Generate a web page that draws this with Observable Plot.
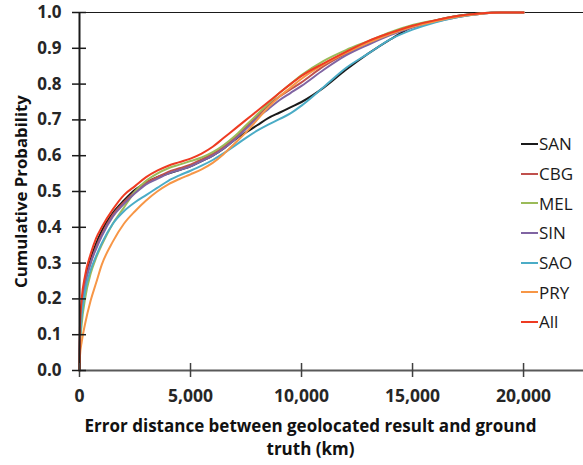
<!DOCTYPE html>
<html>
<head>
<meta charset="utf-8">
<script src="https://cdn.jsdelivr.net/npm/d3@7"></script>
<script src="https://cdn.jsdelivr.net/npm/@observablehq/plot@0.6"></script>
<style>
  html, body { margin: 0; padding: 0; background: #fff; }
  #wrap { position: relative; width: 583px; height: 465px; }
  #legend { position: absolute; left: 521px; top: 129px; font-family: "Open Sans", sans-serif; font-size: 17px; color: #1a1a1a; }
  #legend .row { display: flex; align-items: center; height: 29.7px; }
  #legend .sw { width: 17px; height: 2px; margin-right: 1px; }
</style>
</head>
<body>
<div id="wrap"><div id="legend"></div></div>
<script>
const seriesNames = ["SAN", "CBG", "MEL", "SIN", "SAO", "PRY", "All"];
const seriesColors = ["#1a1a1a", "#C0504D", "#9BBB59", "#8064A2", "#4BACC6", "#F79646", "#EE3B22"];
const distanceKm = [0, 20, 100, 250, 500, 750, 1000, 1500, 2000, 2500, 3000, 3500, 4000, 4500, 5000, 5500, 6000, 6500, 7000, 7500, 8000, 8500, 9000, 9500, 10000, 11000, 12000, 13000, 14000, 15000, 16000, 17000, 18000, 19000, 20000];
const SAN = [0, 0.10, 0.18, 0.25, 0.31, 0.355, 0.39, 0.44, 0.475, 0.505, 0.525, 0.54, 0.55, 0.56, 0.57, 0.585, 0.60, 0.62, 0.645, 0.665, 0.685, 0.705, 0.72, 0.735, 0.75, 0.79, 0.84, 0.885, 0.925, 0.96, 0.977, 0.99, 0.998, 1.0, 1.0];
const CBG = [0, 0.09, 0.17, 0.24, 0.30, 0.345, 0.38, 0.435, 0.47, 0.50, 0.525, 0.54, 0.555, 0.565, 0.575, 0.59, 0.605, 0.625, 0.65, 0.68, 0.71, 0.74, 0.765, 0.785, 0.805, 0.85, 0.885, 0.915, 0.94, 0.96, 0.975, 0.988, 0.996, 1.0, 1.0];
const MEL = [0, 0.06, 0.13, 0.20, 0.27, 0.315, 0.35, 0.41, 0.455, 0.50, 0.53, 0.55, 0.565, 0.575, 0.585, 0.595, 0.61, 0.63, 0.655, 0.685, 0.715, 0.745, 0.775, 0.80, 0.825, 0.865, 0.895, 0.92, 0.945, 0.965, 0.978, 0.99, 0.997, 1.0, 1.0];
const SIN = [0, 0.09, 0.17, 0.24, 0.30, 0.34, 0.375, 0.43, 0.465, 0.495, 0.52, 0.535, 0.55, 0.56, 0.57, 0.585, 0.60, 0.62, 0.645, 0.675, 0.705, 0.73, 0.755, 0.775, 0.795, 0.84, 0.88, 0.91, 0.937, 0.958, 0.974, 0.987, 0.996, 1.0, 1.0];
const SAO = [0, 0.08, 0.15, 0.22, 0.28, 0.32, 0.355, 0.41, 0.445, 0.47, 0.49, 0.51, 0.53, 0.545, 0.558, 0.572, 0.588, 0.607, 0.628, 0.65, 0.67, 0.687, 0.702, 0.718, 0.74, 0.792, 0.845, 0.885, 0.925, 0.952, 0.972, 0.987, 0.996, 1.0, 1.0];
const PRY = [0, 0.04, 0.08, 0.13, 0.195, 0.245, 0.295, 0.36, 0.41, 0.445, 0.475, 0.50, 0.52, 0.535, 0.548, 0.562, 0.58, 0.605, 0.635, 0.665, 0.70, 0.735, 0.765, 0.79, 0.815, 0.855, 0.887, 0.915, 0.94, 0.96, 0.975, 0.988, 0.996, 1.0, 1.0];
const All = [0, 0.12, 0.20, 0.265, 0.325, 0.37, 0.40, 0.45, 0.49, 0.515, 0.54, 0.558, 0.572, 0.582, 0.592, 0.606, 0.625, 0.65, 0.675, 0.70, 0.725, 0.75, 0.775, 0.80, 0.823, 0.858, 0.89, 0.92, 0.943, 0.963, 0.978, 0.99, 0.997, 1.0, 1.0];
const xTicks = [0, 5000, 10000, 15000, 20000];
const yTicks = [0, 0.1, 0.2, 0.3, 0.4, 0.5, 0.6, 0.7, 0.8, 0.9, 1.0];
const xTitle = "Error distance between geolocated result and ground\ntruth (km)";
const yTitle = "Cumulative Probability";

const valuesBySeries = {SAN, CBG, MEL, SIN, SAO, PRY, All};
const data = seriesNames.flatMap(s => valuesBySeries[s].map((v, i) => ({series: s, d: distanceKm[i], p: v})));

const W = 583, H = 465, mL = 79, mT = 12, mR = 0, mB = 95;
const frameW = W - mL - mR, frameH = H - mT - mB;
const font = "'Open Sans', sans-serif";

const chart = Plot.plot({
  width: W, height: H,
  marginLeft: mL, marginTop: mT, marginRight: mR, marginBottom: mB,
  style: {fontFamily: font, background: "#fff", color: "#262626"},
  x: {domain: [0, 22700]},
  y: {domain: [0, 1]},
  color: {domain: seriesNames, range: seriesColors},
  marks: [
    Plot.ruleY([1], {stroke: "#1a1a1a", strokeWidth: 1}),
    Plot.line(data, {x: "d", y: "p", z: "series", stroke: "series", strokeWidth: 2, curve: "monotone-x"}),
    Plot.ruleY([0], {stroke: "#595959", strokeWidth: 2}),
    Plot.ruleX([0], {stroke: "#1a1a1a", strokeWidth: 2}),
    Plot.axisX(xTicks, {tickSize: 7, tickFormat: d3.format(","), tickPadding: 12, fontSize: 17.5, fontWeight: 700, fill: "#262626", stroke: "#404040", strokeWidth: 1.5, label: null}),
    Plot.tickX(xTicks, {x: d => d, insetTop: frameH - 7, stroke: "#404040", strokeWidth: 1.5}),
    Plot.axisY(yTicks, {tickSize: 7, tickFormat: d3.format(".1f"), tickPadding: 11, fontSize: 17, fontWeight: 700, fill: "#262626", stroke: "#1a1a1a", strokeWidth: 1.5, label: null}),
    Plot.tickY(yTicks, {y: d => d, insetRight: frameW - 7, stroke: "#1a1a1a", strokeWidth: 1.5}),
    Plot.text([xTitle], {frameAnchor: "bottom", textAnchor: "middle", lineAnchor: "top", dy: 45, dx: -21, fontSize: 17, fontWeight: 700, lineHeight: 1.35, fill: "#111"}),
    Plot.text([yTitle], {frameAnchor: "left", textAnchor: "middle", rotate: -90, dx: -58, fontSize: 16.8, fontWeight: 700, fill: "#111"})
  ]
});
document.getElementById("wrap").prepend(chart);

const legend = document.getElementById("legend");
seriesNames.forEach((s, i) => {
  const row = document.createElement("div");
  row.className = "row";
  const sw = document.createElement("div");
  sw.className = "sw";
  sw.style.background = seriesColors[i];
  const t = document.createElement("span");
  t.textContent = s;
  row.append(sw, t);
  legend.append(row);
});
</script>
</body>
</html>
